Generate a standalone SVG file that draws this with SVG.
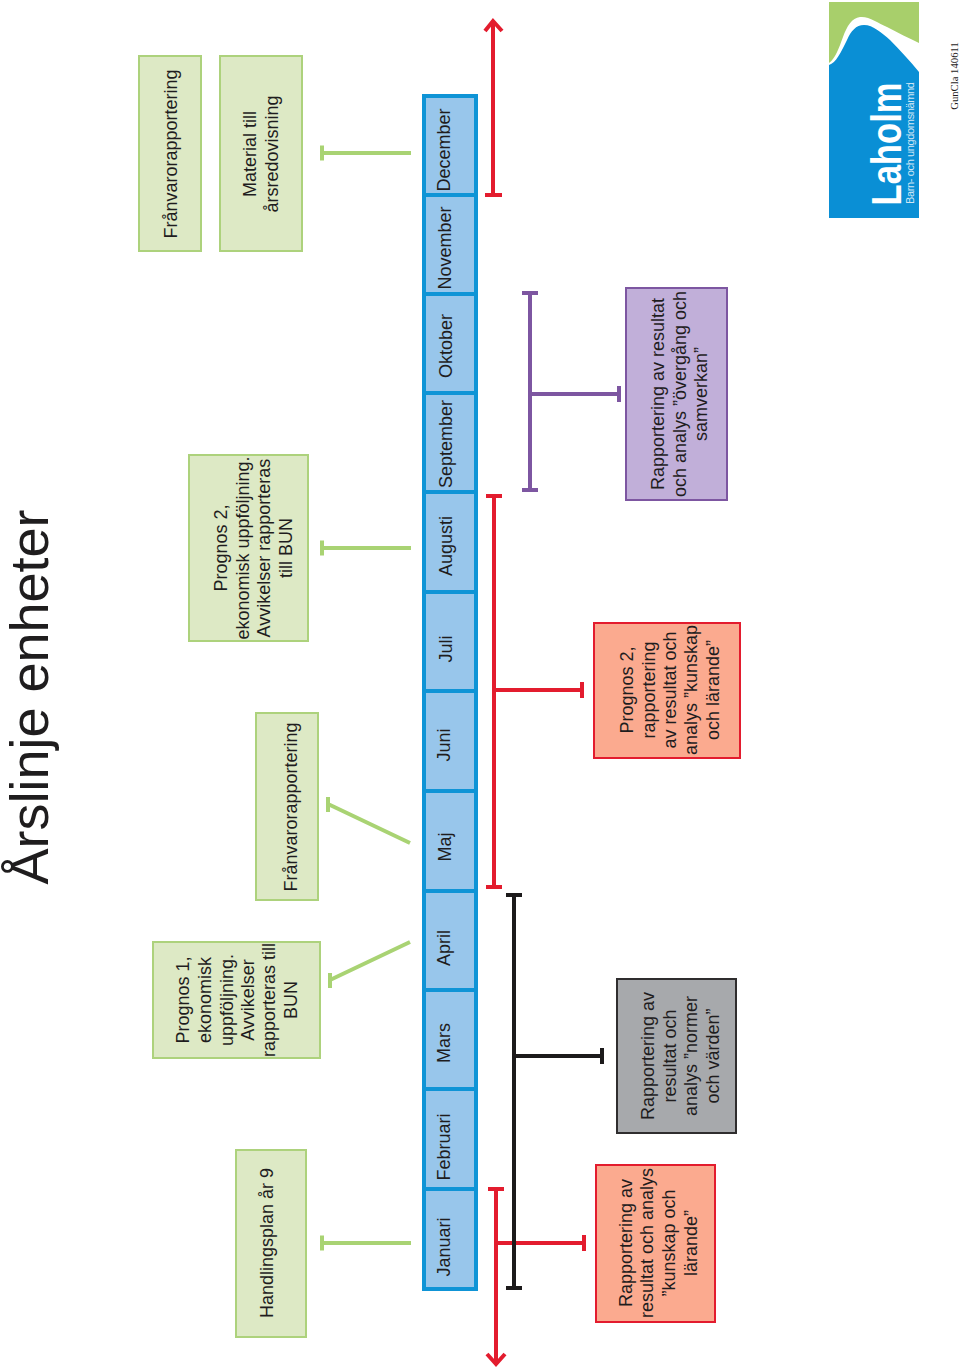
<svg xmlns="http://www.w3.org/2000/svg" width="960" height="1368" viewBox="0 0 960 1368">
<style>
text{font-family:"Liberation Sans",Arial,sans-serif;font-size:18px;fill:#1f1d1e;text-anchor:middle}
.g{fill:#dde9c5;stroke:#add27c;stroke-width:2}
.m{fill:#98c6eb;stroke:#0f94d6;stroke-width:4}
.cg{stroke:#a9d373;stroke-width:4;fill:none}
.cr{stroke:#e31c2e;stroke-width:4;fill:none}
.ck{stroke:#1c1a1b;stroke-width:4;fill:none}
.cp{stroke:#7d56a1;stroke-width:4;fill:none}
</style>
<text id="title" transform="translate(48,697) rotate(-90)" style="font-size:54px">Årslinje enheter</text>
<g id="connectors">
<path class="cg" d="M411 153H322M322 145.500V160.500M411 548H322M322 540.500V555.500M411 1243H322M322 1235.500V1250.500M410 843L328 804M328 797V812M410 942L330 980M330 973V988"/>
<path class="cr" d="M493 195V21M485 31L493 21L502 31M485 195H502M494 496V887M486 496H502M486 887H502M494 690H582M582 682V698M496 1189V1362M488 1189H504M487 1354L496 1364L505 1354M496 1243H584M584 1235V1251"/>
<path class="ck" d="M514 895V1288M506 895H522M506 1288H522M514 1056H602M602 1048V1064"/>
<path class="cp" d="M530 293V490M522 293H538M522 490H538M530 394H619M619 386V402"/>
</g>
<g id="months">
<rect class="m" x="424" y="96" width="52" height="1193"/>
<path class="m" d="M424 195H476M424 294H476M424 393H476M424 492H476M424 592H476M424 691H476M424 791H476M424 891H476M424 990H476M424 1089H476M424 1189H476" style="fill:none"/>
<text transform="translate(450,1247) rotate(-90)">Januari</text>
<text transform="translate(450,1147) rotate(-90)">Februari</text>
<text transform="translate(450,1043) rotate(-90)">Mars</text>
<text transform="translate(450,948) rotate(-90)">April</text>
<text transform="translate(451,847) rotate(-90)">Maj</text>
<text transform="translate(450,745) rotate(-90)">Juni</text>
<text transform="translate(452,649) rotate(-90)">Juli</text>
<text transform="translate(452,546) rotate(-90)">Augusti</text>
<text transform="translate(452,444) rotate(-90)">September</text>
<text transform="translate(452,346) rotate(-90)">Oktober</text>
<text transform="translate(451,248) rotate(-90)">November</text>
<text transform="translate(450,150) rotate(-90)">December</text>
</g>
<g id="n-franvaro-dec"><rect class="g" x="139" y="56" width="62" height="195"/>
<text transform="translate(177,154) rotate(-90)">Frånvarorapportering</text></g>
<g id="n-material"><rect class="g" x="220" y="56" width="82" height="195"/>
<text transform="translate(256,154) rotate(-90)">Material till</text>
<text transform="translate(278,154) rotate(-90)">årsredovisning</text></g>
<g id="n-prognos2-g"><rect class="g" x="189" y="455" width="119" height="186"/>
<text transform="translate(227,548) rotate(-90)">Prognos 2,</text>
<text transform="translate(249,548) rotate(-90)">ekonomisk uppföljning.</text>
<text transform="translate(270,548) rotate(-90)">Avvikelser rapporteras</text>
<text transform="translate(292,548) rotate(-90)">till BUN</text></g>
<g id="n-franvaro-maj"><rect class="g" x="256" y="713" width="62" height="187"/>
<text transform="translate(297,807) rotate(-90)">Frånvarorapportering</text></g>
<g id="n-prognos1"><rect class="g" x="153" y="942" width="167" height="116"/>
<text transform="translate(189,1000) rotate(-90)">Prognos 1,</text>
<text transform="translate(211,1000) rotate(-90)">ekonomisk</text>
<text transform="translate(233,1000) rotate(-90)">uppföljning.</text>
<text transform="translate(254,1000) rotate(-90)">Avvikelser</text>
<text transform="translate(275,1000) rotate(-90)">rapporteras till</text>
<text transform="translate(297,1000) rotate(-90)">BUN</text></g>
<g id="n-handlingsplan"><rect class="g" x="236" y="1150" width="70" height="187"/>
<text transform="translate(273,1243) rotate(-90)">Handlingsplan år 9</text></g>
<g id="n-kunskap"><rect x="596" y="1165" width="119" height="157" fill="#fbaa8f" stroke="#e31c2e" stroke-width="2"/>
<text transform="translate(632,1243) rotate(-90)">Rapportering av</text>
<text transform="translate(653,1243) rotate(-90)">resultat och analys</text>
<text transform="translate(675,1243) rotate(-90)">”kunskap och</text>
<text transform="translate(697,1243) rotate(-90)">lärande”</text></g>
<g id="n-normer"><rect x="617" y="979" width="119" height="154" fill="#a7a9ac" stroke="#2f2d2e" stroke-width="2"/>
<text transform="translate(654,1056) rotate(-90)">Rapportering av</text>
<text transform="translate(676,1056) rotate(-90)">resultat och</text>
<text transform="translate(697,1056) rotate(-90)">analys ”normer</text>
<text transform="translate(719,1056) rotate(-90)">och värden”</text></g>
<g id="n-prognos2-r"><rect x="594" y="623" width="146" height="135" fill="#fbaa8f" stroke="#e31c2e" stroke-width="2"/>
<text transform="translate(633,690) rotate(-90)">Prognos 2,</text>
<text transform="translate(655,690) rotate(-90)">rapportering</text>
<text transform="translate(676,690) rotate(-90)">av resultat och</text>
<text transform="translate(697,690) rotate(-90)">analys ”kunskap</text>
<text transform="translate(719,690) rotate(-90)">och lärande”</text></g>
<g id="n-overgang"><rect x="626" y="288" width="101" height="212" fill="#c1afd9" stroke="#7d56a1" stroke-width="2"/>
<text transform="translate(664,394) rotate(-90)">Rapportering av resultat</text>
<text transform="translate(686,394) rotate(-90)">och analys ”övergång och</text>
<text transform="translate(707,394) rotate(-90)">samverkan”</text></g>
<g id="logo">
<rect x="829" y="2" width="90" height="216" fill="#a8cf6b"/>
<path d="M829 63C835 59 839 48 843 37C847 26 852 18 860 17C869 16 878 23 887 27C898 33 909 38 919 43V218H829Z" fill="#fff"/>
<path d="M829 65C836 63 841 52 847 40C851 31 856 25 864 25C873 25 882 33 890 40C900 50 910 61 919 72V218H829Z" fill="#0a8fd5"/>
<text transform="translate(900.500,205.500) rotate(-90)" textLength="123" lengthAdjust="spacingAndGlyphs" style="font-size:42px;font-weight:bold;fill:#fff;text-anchor:start">Laholm</text>
<text transform="translate(914,204) rotate(-90)" textLength="122" lengthAdjust="spacing" style="font-size:11px;fill:#cfe6f5;text-anchor:start">Barn- och ungdomsnämnd</text>
</g>
<text id="signature" transform="translate(958,76) rotate(-90)" style="font-family:'Liberation Serif',serif;font-size:10.700px">GunCla 140611</text>
</svg>
